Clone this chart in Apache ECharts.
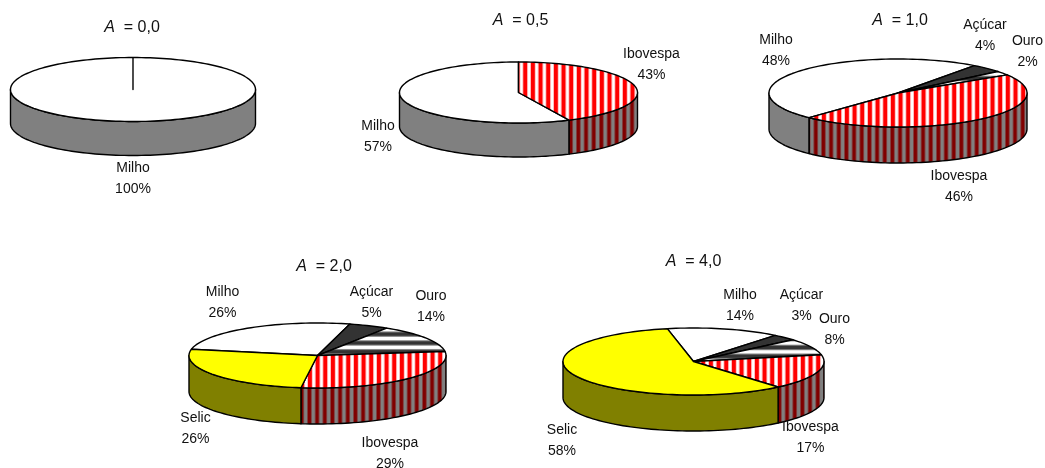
<!DOCTYPE html>
<html>
<head>
<meta charset="utf-8">
<style>html,body{margin:0;padding:0;background:#fff}#c{width:1045px;height:468px}</style>
<script src="https://cdn.jsdelivr.net/npm/echarts@6/dist/echarts.min.js"></script>
</head>
<body>
<div id="c"></div>
<script>
// ---- data ----
const categories = ['Milho', 'Açúcar', 'Ouro', 'Ibovespa', 'Selic'];
const titlesA = ['0,0', '0,5', '1,0', '2,0', '4,0'];
const sharesA00 = [100, 0, 0, 0, 0];
const sharesA05 = [57, 0, 0, 43, 0];
const sharesA10 = [48, 4, 2, 46, 0];
const sharesA20 = [26, 5, 14, 29, 26];
const sharesA40 = [14, 3, 8, 17, 58];
const allShares = [sharesA00, sharesA05, sharesA10, sharesA20, sharesA40];

// ---- layout: ellipse geometry, first-slice rotation, pattern phase, text anchors ----
const pies = [
  {cx: 133,   cy: 89.5,  rx: 122.5, ry: 32,   depth: 34, start: 0,     title: [132, 27.5],    stripeX: 0,     bandY: 0},
  {cx: 518.5, cy: 92.5,  rx: 119,   ry: 30.5, depth: 34, start: 154.8, title: [520.5, 20.5],  stripeX: 523.3, bandY: 0},
  {cx: 898,   cy: 93,    rx: 129,   ry: 34,   depth: 36, start: 223.5, title: [900, 21],      stripeX: 883.3, bandY: 68},
  {cx: 317.5, cy: 355.5, rx: 128.5, ry: 32.5, depth: 36, start: 281,   title: [324, 267],     stripeX: 331,   bandY: 332.5},
  {cx: 693.5, cy: 361.5, rx: 130.5, ry: 33.5, depth: 36, start: 348.4, title: [693.5, 261.5], stripeX: 747.3, bandY: 337}
];
const labelAnchors = [
  {0: [133, 178.5]},
  {0: [378, 136.5], 3: [651.5, 65]},
  {0: [776, 51], 1: [985, 36], 2: [1027.5, 52], 3: [959, 187]},
  {0: [222.5, 302.5], 1: [371.5, 302.5], 2: [431, 306.5], 3: [390, 453.5], 4: [195.5, 428.5]},
  {0: [740, 306], 1: [801.5, 306], 2: [834.5, 329.5], 3: [810.5, 438], 4: [562, 440.5]}
];

// ---- fills ----
function stripes(cols, vertical, offset, scale) {
  const n = cols.length, cv = document.createElement('canvas');
  cv.width = vertical ? n : 1; cv.height = vertical ? 1 : n;
  const g = cv.getContext('2d');
  cols.forEach((c, i) => { g.fillStyle = c; vertical ? g.fillRect(i, 0, 1, 1) : g.fillRect(0, i, 1, 1); });
  return vertical
    ? {image: cv, repeat: 'repeat', x: offset, y: 0, scaleX: scale, scaleY: 1}
    : {image: cv, repeat: 'repeat', x: 0, y: offset, scaleX: 1, scaleY: scale};
}
const ibovTop = ['#ff0000','#ff0000','#ff0000','#ff0000','#ffc0c0','#ffffff','#ffffff','#ffc0c0'];
const ibovSide = ['#800000','#800000','#800000','#804040','#808080','#808080','#808080','#804040'];
const ouroTop = ['#333333','#333333','#333333','#808080','#ffffff','#ffffff','#ffffff','#808080'];
const topFill = {
  0: () => '#ffffff', 1: () => '#333333',
  2: p => stripes(ouroTop, false, p.bandY, 1.1),
  3: p => stripes(ibovTop, true, p.stripeX, 0.958),
  4: () => '#ffff00'
};
const sideFill = {
  0: () => '#808080', 1: () => '#1a1a1a', 2: () => '#333333',
  3: p => stripes(ibovSide, true, p.stripeX, 0.958),
  4: () => '#808000'
};

function pt(p, deg, dy) {
  const a = deg * Math.PI / 180;
  return [p.cx + p.rx * Math.sin(a), p.cy - p.ry * Math.cos(a) + (dy || 0)];
}
function arc(p, a0, a1, dy) {
  const out = [], n = Math.max(1, Math.ceil(Math.abs(a1 - a0) / 2));
  for (let i = 0; i <= n; i++) out.push(pt(p, a0 + (a1 - a0) * i / n, dy));
  return out;
}
const lineStyle = {stroke: '#000', lineWidth: 1.4, lineJoin: 'round'};

function seriesFor(pieIdx) {
  const p = pies[pieIdx], shares = allShares[pieIdx];
  const rows = [];
  let acc = p.start;
  shares.forEach((v, i) => { if (v > 0) { rows.push([i, v, acc]); acc += v * 3.6; } });
  return {
    type: 'custom', coordinateSystem: 'none', silent: true, clip: false,
    data: rows,
    renderItem(params, api) {
      const cat = api.value(0), val = api.value(1), a0 = api.value(2), a1 = a0 + val * 3.6;
      const kids = [];
      [[90, 270], [450, 630], [-270, -90]].forEach(([lo, hi]) => {
        const s = Math.max(a0, lo), e = Math.min(a1, hi);
        if (e > s) {
          const up = arc(p, s, e, 0), down = arc(p, e, s, p.depth);
          kids.push({type: 'polygon', z2: 1, shape: {points: up.concat(down)},
            style: Object.assign({fill: sideFill[cat](p)}, lineStyle)});
        }
      });
      const topPts = [[p.cx, p.cy]].concat(arc(p, a0, a1, 0));
      kids.push({type: 'polygon', z2: 2, shape: {points: topPts},
        style: Object.assign({fill: topFill[cat](p)}, lineStyle)});
      const anchor = labelAnchors[pieIdx][cat];
      kids.push({type: 'text', z2: 3, x: anchor[0], y: anchor[1], style: {
        text: categories[cat] + '\n' + val + '%',
        font: '14px "Liberation Sans", Arial, sans-serif', lineHeight: 21,
        fill: '#111', align: 'center', verticalAlign: 'middle'}});
      return {type: 'group', children: kids};
    }
  };
}

const chart = echarts.init(document.getElementById('c'), null, {renderer: 'canvas'});
chart.setOption({
  animation: false,
  backgroundColor: '#ffffff',
  title: titlesA.map((t, i) => ({
    text: '{i|A}  = ' + t,
    left: pies[i].title[0], top: pies[i].title[1] - 8, textAlign: 'center',
    padding: 0,
    textStyle: {
      fontFamily: '"Liberation Sans", Arial, sans-serif', fontSize: 16, fontWeight: 'normal', color: '#111',
      rich: {i: {fontStyle: 'italic', fontSize: 16, fontFamily: '"Liberation Sans", Arial, sans-serif', color: '#111'}}
    }
  })),
  series: pies.map((_, i) => seriesFor(i))
});
</script>
</body>
</html>
